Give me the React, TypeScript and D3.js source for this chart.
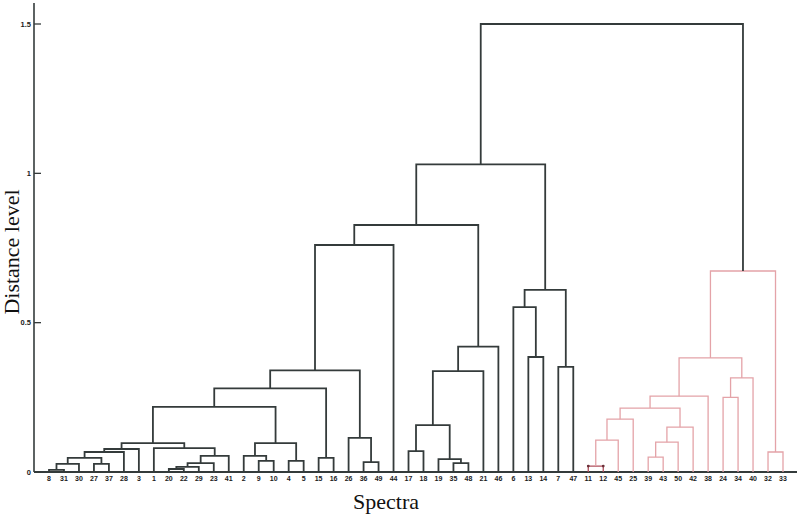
import React, { useEffect, useRef } from 'react';
import * as d3 from 'd3';

// leaf order along the x axis
const leaves = [
  '8', '31', '30', '27', '37', '28', '3', '1', '20', '22', '29', '23', '41', '2', '9', '10', '4', '5',
  '15', '16', '26', '36', '49', '44', '17', '18', '19', '35', '48', '21', '46', '6', '13', '14', '7', '47',
  '11', '12', '45', '25', '39', '43', '50', '42', '38', '24', '34', '40', '32', '33',
];

// linkage: [left, right, distance]; "cN" refers to merge N
const merges: [string, string, number][] = [
  ['8', '31', 0.007], ['c0', '30', 0.027], ['27', '37', 0.027], ['c1', 'c2', 0.047],
  ['c3', '28', 0.067], ['c4', '3', 0.077], ['20', '22', 0.01], ['c6', '29', 0.017],
  ['c7', '23', 0.03], ['c8', '41', 0.054], ['1', 'c9', 0.08], ['c5', 'c10', 0.097],
  ['9', '10', 0.037], ['2', 'c12', 0.054], ['4', '5', 0.037], ['c13', 'c14', 0.097],
  ['c11', 'c15', 0.218], ['15', '16', 0.047], ['c16', 'c17', 0.28], ['36', '49', 0.033],
  ['26', 'c19', 0.114], ['c18', 'c20', 0.34], ['c21', '44', 0.76], ['17', '18', 0.07],
  ['35', '48', 0.03], ['19', 'c24', 0.043], ['c23', 'c25', 0.157], ['c26', '21', 0.338],
  ['c27', '46', 0.42], ['c22', 'c28', 0.827], ['13', '14', 0.385], ['6', 'c30', 0.552],
  ['7', '47', 0.352], ['c31', 'c32', 0.61], ['c29', 'c33', 1.03],
  ['11', '12', 0.02], ['c35', '45', 0.107], ['c36', '25', 0.177], ['39', '43', 0.05],
  ['c38', '50', 0.1], ['c39', '42', 0.15], ['c37', 'c40', 0.214], ['c41', '38', 0.254],
  ['24', '34', 0.25], ['c43', '40', 0.315], ['c42', 'c44', 0.382], ['32', '33', 0.067],
  ['c45', 'c46', 0.673], ['c34', 'c47', 1.5],
];

const redRoot = 'c47';
const markedMerge = 'c35';
const yTicks = [0, 0.5, 1, 1.5];

function App() {
  const ref = useRef<SVGSVGElement>(null);

  useEffect(() => {
    const svg = d3.select(ref.current);
    svg.selectAll('*').remove();

    const x = d3.scalePoint<string>().domain(leaves).range([49, 783]);
    const y = d3.scaleLinear().domain([0, 1.5]).range([472, 24]);

    const dark = '#343b3b';
    const pink = '#e4a3a8';

    // positions of leaves and merges
    const pos: Record<string, { x: number; y: number }> = {};
    leaves.forEach((l) => { pos[l] = { x: x(l) as number, y: y(0) }; });
    merges.forEach(([a, b, h], i) => {
      pos['c' + i] = { x: (pos[a].x + pos[b].x) / 2, y: y(h) };
    });

    // which merges belong to the red cluster
    const red = new Set<string>();
    const mark = (id: string) => {
      if (!id.startsWith('c')) return;
      red.add(id);
      const m = merges[+id.slice(1)];
      mark(m[0]);
      mark(m[1]);
    };
    mark(redRoot);

    // axes
    svg.append('line')
      .attr('x1', 34).attr('x2', 34)
      .attr('y1', y(1.57)).attr('y2', y(0))
      .attr('stroke', dark).attr('stroke-width', 1.6);
    svg.append('line')
      .attr('x1', 34).attr('x2', 797)
      .attr('y1', y(0)).attr('y2', y(0))
      .attr('stroke', dark).attr('stroke-width', 1.8);

    yTicks.forEach((t) => {
      svg.append('line')
        .attr('x1', 34).attr('x2', 41)
        .attr('y1', y(t)).attr('y2', y(t))
        .attr('stroke', dark).attr('stroke-width', 1.3);
      svg.append('text')
        .attr('x', 31).attr('y', y(t))
        .attr('dy', '0.35em')
        .attr('text-anchor', 'end')
        .attr('font-family', 'Liberation Sans, Arial, sans-serif')
        .attr('font-weight', 'bold')
        .attr('font-size', 7.5)
        .attr('fill', '#1a1a1a')
        .text(d3.format('~g')(t));
    });

    leaves.forEach((l) => {
      svg.append('text')
        .attr('x', x(l) as number).attr('y', 481)
        .attr('text-anchor', 'middle')
        .attr('font-family', 'Liberation Sans, Arial, sans-serif')
        .attr('font-weight', 'bold')
        .attr('font-size', 7)
        .attr('fill', '#1a1a1a')
        .text(l);
    });

    // dendrogram links
    merges.forEach(([a, b], i) => {
      const id = 'c' + i;
      const p = pos[id];
      const pa = pos[a];
      const pb = pos[b];
      const isRed = red.has(id);
      const path = d3.path();
      path.moveTo(pa.x, pa.y);
      path.lineTo(pa.x, p.y);
      path.lineTo(pb.x, p.y);
      path.lineTo(pb.x, pb.y);
      svg.append('path')
        .attr('d', path.toString())
        .attr('fill', 'none')
        .attr('stroke', id === markedMerge ? '#b0505e' : isRed ? pink : dark)
        .attr('stroke-width', isRed ? 1.3 : 1.8);
      if (id === markedMerge) {
        [pa, pb].forEach((q) => {
          svg.append('circle')
            .attr('cx', q.x).attr('cy', p.y).attr('r', 1.4)
            .attr('fill', '#6a3038');
        });
      }
    });

    // titles
    svg.append('text')
      .attr('transform', `translate(19,${252}) rotate(-90)`)
      .attr('text-anchor', 'middle')
      .attr('font-family', 'Liberation Serif, Times New Roman, serif')
      .attr('font-size', 22)
      .attr('fill', '#111')
      .text('Distance level');
    svg.append('text')
      .attr('x', 386).attr('y', 509)
      .attr('text-anchor', 'middle')
      .attr('font-family', 'Liberation Serif, Times New Roman, serif')
      .attr('font-size', 22)
      .attr('fill', '#111')
      .text('Spectra');
  }, []);

  return (
    <svg ref={ref} width={800} height={517}
      style={{ position: 'absolute', left: 0, top: 0, background: '#fff' }} />
  );
}

export default App;
